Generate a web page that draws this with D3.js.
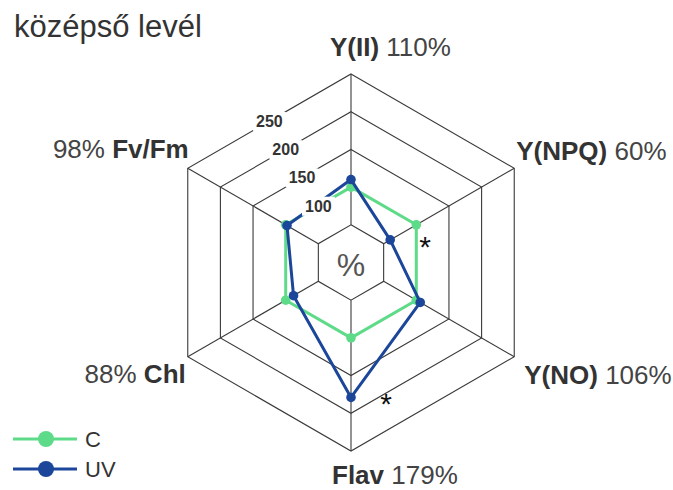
<!DOCTYPE html>
<html>
<head>
<meta charset="utf-8">
<script src="https://cdn.jsdelivr.net/npm/d3@7"></script>
<style>
  html, body { margin: 0; padding: 0; background: #fff; }
  svg { display: block; font-family: "Liberation Sans", Arial, sans-serif; }
</style>
</head>
<body>
<svg id="chart" width="673" height="490"></svg>
<script>
// Radar chart: UV-treated vs control leaves, relative values (%)
const title = "középső levél";
const axes = ["Y(II)", "Y(NPQ)", "Y(NO)", "Flav", "Chl", "Fv/Fm"];
const controlValues = [100, 100, 100, 100, 100, 100];
const uvValues = [110, 60, 106, 179, 88, 98];
const ringValues = [50, 100, 150, 200, 250];
const tickLabels = [100, 150, 200, 250];
const significant = ["Y(NPQ)", "Flav"];
const seriesNames = ["C", "UV"];

const colors = { C: "#5edb88", UV: "#1c4699" };

const svg = d3.select("#chart");
const cx = 351, cy = 262.5, maxR = 188.5;

const r = d3.scaleLinear().domain([0, 250]).range([0, maxR]);
const angle = d3.scalePoint().domain(axes).range([0, 2 * Math.PI * (axes.length - 1) / axes.length]);

const pt = (a, v) => [cx + r(v) * Math.sin(a), cy - r(v) * Math.cos(a)];

// title
svg.append("text")
  .attr("x", 14).attr("y", 37)
  .attr("font-size", 31)
  .attr("fill", "#333")
  .text(title);

const g = svg.append("g");

// hexagonal rings
g.selectAll("polygon.ring")
  .data(ringValues)
  .join("polygon")
  .attr("class", "ring")
  .attr("points", v => axes.map(a => pt(angle(a), v).join(",")).join(" "))
  .attr("fill", "none")
  .attr("stroke", "#3a3a3a")
  .attr("stroke-width", 1.1);

// spokes from inner ring outwards
g.selectAll("line.spoke")
  .data(axes)
  .join("line")
  .attr("class", "spoke")
  .attr("x1", a => pt(angle(a), ringValues[0])[0])
  .attr("y1", a => pt(angle(a), ringValues[0])[1])
  .attr("x2", a => pt(angle(a), ringValues[ringValues.length - 1])[0])
  .attr("y2", a => pt(angle(a), ringValues[ringValues.length - 1])[1])
  .attr("stroke", "#3a3a3a")
  .attr("stroke-width", 1.1);

// center symbol
g.append("text")
  .attr("x", cx).attr("y", cy + 13)
  .attr("text-anchor", "middle")
  .attr("font-size", 32)
  .attr("fill", "#555")
  .text("%");

// series
const line = d3.lineRadial()
  .angle((d, i) => angle(axes[i]))
  .radius(d => r(d))
  .curve(d3.curveLinearClosed);

const series = [
  { name: "C", values: controlValues },
  { name: "UV", values: uvValues }
];

const sg = g.selectAll("g.series")
  .data(series)
  .join("g")
  .attr("class", "series")
  .attr("transform", `translate(${cx},${cy})`);

sg.append("path")
  .attr("d", d => line(d.values))
  .attr("fill", "none")
  .attr("stroke", d => colors[d.name])
  .attr("stroke-width", 3)
  .attr("stroke-linejoin", "round");

sg.selectAll("circle")
  .data(d => d.values.map((v, i) => ({ v, a: axes[i], name: d.name })))
  .join("circle")
  .attr("cx", d => r(d.v) * Math.sin(angle(d.a)))
  .attr("cy", d => -r(d.v) * Math.cos(angle(d.a)))
  .attr("r", 4.8)
  .attr("fill", d => colors[d.name]);

// ring value labels along the Fv/Fm – Y(II) edge, with white backing
const tickAngle = -Math.PI / 6;
const tg = g.selectAll("g.tick")
  .data(tickLabels)
  .join("g")
  .attr("class", "tick")
  .attr("transform", v => {
    const d = r(v) * Math.cos(Math.PI / 6);
    return `translate(${cx + d * Math.sin(tickAngle)},${cy - d * Math.cos(tickAngle)})`;
  });

tg.append("rect");
tg.append("text")
  .attr("text-anchor", "middle")
  .attr("dy", "0.36em")
  .attr("font-size", 16)
  .attr("font-weight", "bold")
  .attr("fill", "#333")
  .text(d => d);
tg.each(function () {
  const b = d3.select(this).select("text").node().getBBox();
  d3.select(this).select("rect")
    .attr("x", b.x - 3).attr("y", b.y - 1)
    .attr("width", b.width + 6).attr("height", b.height + 2)
    .attr("fill", "#fff");
});

// axis labels: name in bold, UV value in percent
const labelLayout = {
  "Y(II)":  { dx: -21, dy: -18, anchor: "start", nameFirst: true },
  "Y(NPQ)": { dx: 2,   dy: -8,  anchor: "start", nameFirst: true },
  "Y(NO)":  { dx: 10,  dy: 27,  anchor: "start", nameFirst: true },
  "Flav":   { dx: -19, dy: 33,  anchor: "start", nameFirst: true },
  "Chl":    { dx: -2,  dy: 26,  anchor: "end",   nameFirst: false },
  "Fv/Fm":  { dx: 1,   dy: -10, anchor: "end",   nameFirst: false }
};

axes.forEach((a, i) => {
  const [vx, vy] = pt(angle(a), 250);
  const L = labelLayout[a];
  const t = g.append("text")
    .attr("x", vx + L.dx).attr("y", vy + L.dy)
    .attr("text-anchor", L.anchor)
    .attr("font-size", 26)
    .attr("fill", "#333");
  const val = uvValues[i] + "%";
  if (L.nameFirst) {
    t.append("tspan").attr("font-weight", "bold").text(a);
    t.append("tspan").attr("fill", "#444").text(" " + val);
  } else {
    t.append("tspan").attr("fill", "#444").text(val + " ");
    t.append("tspan").attr("font-weight", "bold").text(a);
  }
});

// significance marks next to UV points
significant.forEach(a => {
  const i = axes.indexOf(a);
  const [px, py] = pt(angle(a), uvValues[i]);
  g.append("text")
    .attr("x", px + 35).attr("y", py + 17)
    .attr("text-anchor", "middle")
    .attr("font-size", 30)
    .attr("fill", "#111")
    .text("*");
});

// legend
const lg = svg.append("g")
  .selectAll("g")
  .data(seriesNames)
  .join("g")
  .attr("transform", (d, i) => `translate(0,${439 + i * 30})`);
lg.append("line")
  .attr("x1", 13).attr("x2", 77)
  .attr("stroke", d => colors[d])
  .attr("stroke-width", 3);
lg.append("circle")
  .attr("cx", 46).attr("r", 8)
  .attr("fill", d => colors[d]);
lg.append("text")
  .attr("x", 85).attr("y", 8)
  .attr("font-size", 22)
  .attr("fill", "#333")
  .text(d => d);
</script>
</body>
</html>
